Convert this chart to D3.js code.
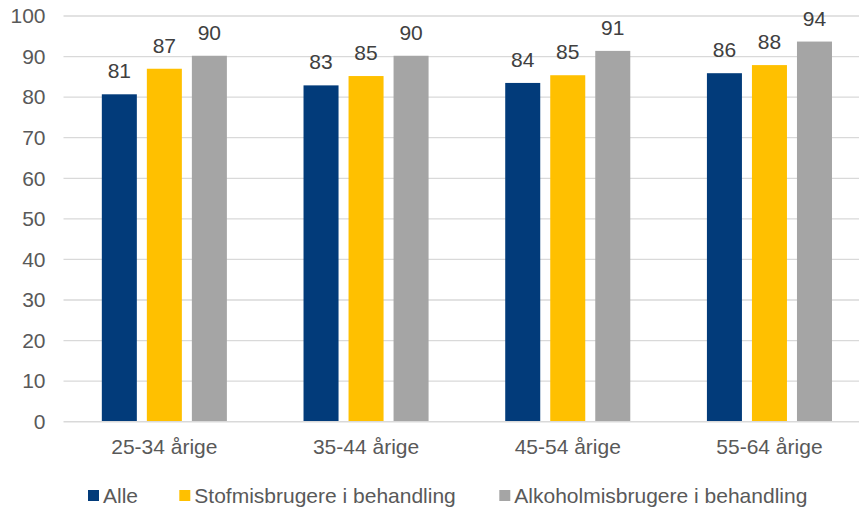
<!DOCTYPE html>
<html><head><meta charset="utf-8">
<script src="https://cdn.jsdelivr.net/npm/d3@7"></script>
<style>body{margin:0;background:#fff}svg{display:block;font-family:"Liberation Sans",Arial,sans-serif}</style>
</head><body><svg id="c" width="859" height="511"></svg>
<script>
const categories = ["25-34 årige","35-44 årige","45-54 årige","55-64 årige"];
const seriesNames = ["Alle","Stofmisbrugere i behandling","Alkoholmisbrugere i behandling"];
const alle = [80.7, 82.9, 83.5, 85.9];
const stof = [87.0, 85.2, 85.4, 87.9];
const alko = [90.2, 90.2, 91.4, 93.7];
const yTicks = [0,10,20,30,40,50,60,70,80,90,100];
const colors = ["#023b7a","#ffc000","#a5a5a5"];

const FS = 21;
const series = [alle, stof, alko];
const svg = d3.select("#c");
const x = d3.scaleBand().domain(categories).range([63.5, 870.3]).paddingInner(0.38).paddingOuter(0.19);
const xi = d3.scaleBand().domain(d3.range(3)).range([0, x.bandwidth()]).paddingInner(10/45).paddingOuter(0);
const y = d3.scaleLinear().domain([0,100]).range([421.7, 16]);

// gridlines
svg.append("g").selectAll("line").data(yTicks.filter(t=>t>0)).join("line")
  .attr("x1",63.5).attr("x2",859).attr("y1",d=>y(d)).attr("y2",d=>y(d))
  .attr("stroke","#d9d9d9").attr("stroke-width",1.3);

// y labels
const yAxis = d3.axisLeft(y).tickValues(yTicks).tickSize(0).tickPadding(0);
const ya = svg.append("g").attr("transform","translate(45.5,0)").call(yAxis);
ya.select(".domain").remove();
ya.selectAll("text").attr("font-size",FS).attr("fill","#595959").attr("font-family","Liberation Sans, Arial, sans-serif");

// bars
const groups = svg.append("g").selectAll("g").data(categories).join("g")
  .attr("transform",d=>`translate(${x(d)},0)`);
groups.selectAll("rect").data((d,i)=>series.map((s,j)=>({j,v:s[i]}))).join("rect")
  .attr("x",d=>xi(d.j)).attr("width",xi.bandwidth())
  .attr("y",d=>y(d.v)).attr("height",d=>y(0)-y(d.v))
  .attr("fill",d=>colors[d.j]);
groups.selectAll("text").data((d,i)=>series.map((s,j)=>({j,v:s[i]}))).join("text")
  .attr("x",d=>xi(d.j)+xi.bandwidth()/2).attr("y",d=>y(d.v)-16)
  .attr("text-anchor","middle").attr("font-size",FS).attr("fill","#404040")
  .text(d=>Math.round(d.v));

// x axis baseline
svg.append("line").attr("x1",63.5).attr("x2",859).attr("y1",y(0)).attr("y2",y(0))
  .attr("stroke","#d9d9d9").attr("stroke-width",1.5);

// x labels
const xAxis = d3.axisBottom(x).tickSize(0).tickPadding(0);
const xa = svg.append("g").call(xAxis);
xa.select(".domain").remove();
xa.selectAll("text").attr("y",454).attr("dy",null).attr("font-size",FS).attr("fill","#595959")
  .attr("font-family","Liberation Sans, Arial, sans-serif");

// legend
const legX = [88, 179.3, 499.3];
const leg = svg.append("g").selectAll("g").data(seriesNames).join("g")
  .attr("transform",(d,i)=>`translate(${legX[i]},0)`);
leg.append("rect").attr("x",0).attr("y",490).attr("width",11).attr("height",11).attr("fill",(d,i)=>colors[i]);
leg.append("text").attr("x",15).attr("y",502.5).attr("font-size",FS).attr("fill","#595959").text(d=>d);
</script></body></html>
